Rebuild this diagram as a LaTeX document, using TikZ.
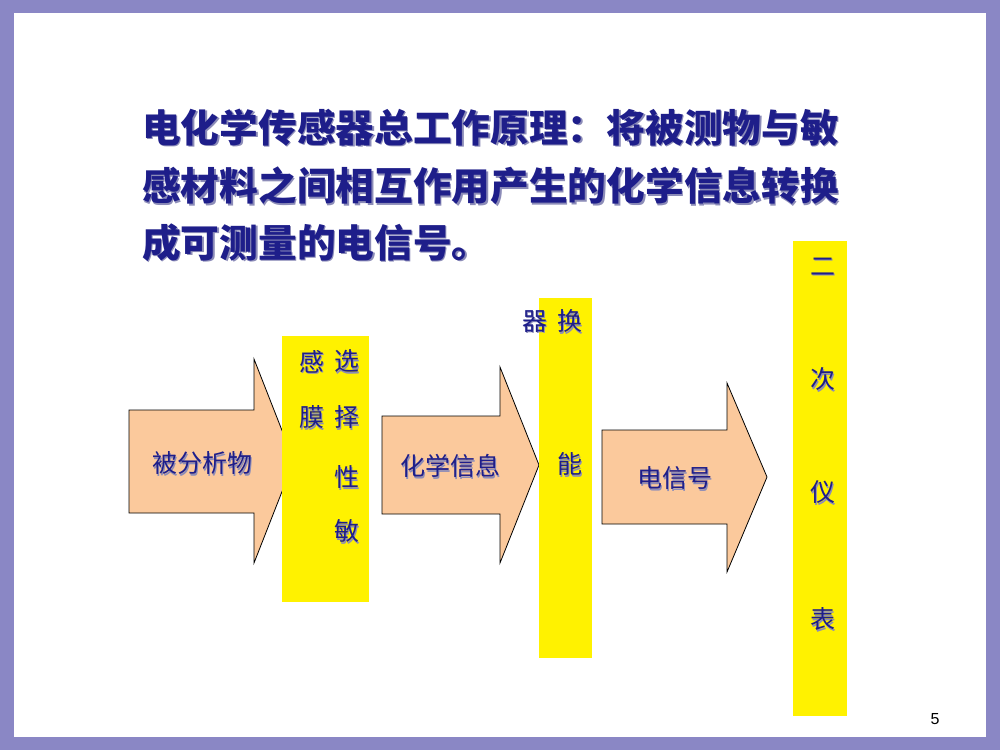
\documentclass[tikz,border=0pt]{standalone}
\usepackage{fontspec}
\newfontfamily\cjk{Noto Sans CJK SC}
\setmainfont{Liberation Sans}
\definecolor{frame}{HTML}{8A87C5}
\definecolor{peach}{HTML}{FBC99C}
\definecolor{navy}{HTML}{1E1E8A}
\definecolor{shade}{HTML}{8C8CB8}
\newcommand\shtxt[2]{\makebox[0pt][l]{\hspace*{#1}\raisebox{-#1}{\textcolor{shade}{#2}}}#2}
\tikzset{
  arrowshape/.style={draw=black, line width=0.8pt, fill=peach, line join=miter},
  bar/.style={fill=yellow, draw=none},
  lbl/.style={inner sep=0pt, font=\cjk\fontsize{25}{25}\selectfont, text=navy},
  ttl/.style={inner sep=0pt, anchor=west, font=\cjk\bfseries\fontsize{38.7}{38.7}\selectfont, text=navy},
}
\begin{document}
\begin{tikzpicture}[x=1pt,y=-1pt]
\useasboundingbox (0,0) rectangle (1000,750);
% frame
\fill[frame] (0,0) rectangle (1000,750);
\fill[white] (14,13) rectangle (986,737);
% title
\foreach \t/\yy/\n in {电化学传感器总工作原理：将被测物与敏/128/a,感材料之间相互作用产生的化学信息转换/187/b,成可测量的电信号。/243/c}{
  \node[ttl] (t\n) at (142,\yy) {\shtxt{1.5pt}{\t}};
}
% arrows
\draw[arrowshape] (129,410) -- (254,410) -- (254,359) -- (294,461) -- (254,563) -- (254,513) -- (129,513) -- cycle;
\draw[arrowshape] (382,416) -- (500,416) -- (500,367) -- (539,465) -- (500,563) -- (500,514) -- (382,514) -- cycle;
\draw[arrowshape] (602,430) -- (727,430) -- (727,383) -- (767,477) -- (727,572) -- (727,524) -- (602,524) -- cycle;
% yellow bars
\fill[bar] (282,336) rectangle (369,602);
\fill[bar] (539,298) rectangle (592,658);
\fill[bar] (793,241) rectangle (847,716);
% labels
\foreach \t/\x/\y/\n in {被分析物/202/464/l1,化学信息/450/467/l2,电信号/675/479/l3,
  感/312/362/m1,膜/312/418/m2,选/347/362/m3,择/347/418/m4,性/347/478/m5,敏/347/532/m6,
  器/535/322/n1,换/570/322/n2,能/570/465/n3,
  二/823/267/o1,次/823/380/o2,仪/823/493/o3,表/823/620/o4}{
  \node[lbl] (\n) at (\x,\y) {\shtxt{1.2pt}{\t}};
}
% page number
\node[inner sep=0pt, font=\fontsize{16}{16}\selectfont] (pg) at (935,719) {5};
\end{tikzpicture}
\end{document}
